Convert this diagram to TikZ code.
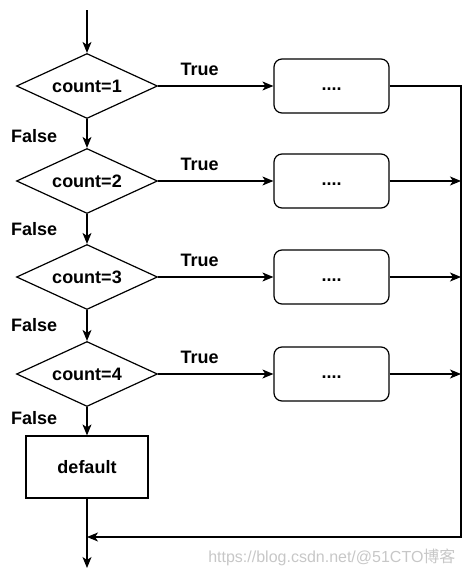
\documentclass[tikz,border=0pt]{standalone}
\usepackage{fontspec}
\setmainfont{Liberation Sans}
\newfontfamily\cjkwm{Noto Sans CJK SC}
\usetikzlibrary{arrows.meta, positioning, shapes.geometric}

\begin{document}
\begin{tikzpicture}[
		x=1pt, y=-1pt,
		every node/.style={font=\fontsize{18}{21}\selectfont\bfseries},
		arrow/.style={-{Stealth[length=11pt, width=9pt, inset=3pt]}, line width=1.2pt},
		test/.style={draw, diamond, line width=1.2pt, inner sep=0pt,
			minimum width=141pt, minimum height=65pt, aspect=2.17},
		action/.style={draw, rectangle, rounded corners=8pt, line width=1.2pt,
			text height=13pt, text depth=4pt,
			minimum width=115pt, minimum height=54pt},
		fallback/.style={draw, rectangle, line width=1.2pt,
			minimum width=122pt, minimum height=62pt},
		yes/.style={pos=0.36, above=6pt},
		no/.style={midway, left=26pt}
		]
		\useasboundingbox (0,0) rectangle (468,576);
		
		% === NODES ===
		
		% Entry and exit
		\coordinate (entry) at (87,10);
		\coordinate (exit) at (87,568);
		
		% Tests on the left
		\node [test] (test1) at (87,86) {count=1};
		\node [test] (test2) at (87,181) {count=2};
		\node [test] (test3) at (87,277) {count=3};
		\node [test] (test4) at (87,374) {count=4};
		
		% Default branch
		\node [fallback] (default) at (87,467) {default};
		
		% Actions on the right
		\node [action] (act1) at (331.5,86) {....};
		\node [action] (act2) at (331.5,181) {....};
		\node [action] (act3) at (331.5,277) {....};
		\node [action] (act4) at (331.5,374) {....};
		
		% Collecting line on the right
		\coordinate (bus1) at (461,86);
		\coordinate (bus2) at (461,181);
		\coordinate (bus3) at (461,277);
		\coordinate (bus4) at (461,374);
		\coordinate (merge) at (87,537);
		
		% === FALSE CHAIN ===
		
		\draw[arrow] (entry) -- (test1);
		\draw[arrow] (test1) -- node[no, yshift=-3pt] {False} (test2);
		\draw[arrow] (test2) -- node[no] {False} (test3);
		\draw[arrow] (test3) -- node[no] {False} (test4);
		\draw[arrow] (test4) -- node[no, yshift=3pt] {False} (default);
		\draw[arrow] (default) -- (exit);
		
		% === TRUE BRANCHES ===
		
		\draw[arrow] (test1) -- node[yes] {True} (act1);
		\draw[arrow] (test2) -- node[yes] {True} (act2);
		\draw[arrow] (test3) -- node[yes] {True} (act3);
		\draw[arrow] (test4) -- node[yes] {True} (act4);
		
		% Back to the exit
		\draw[arrow] (act1) -- (bus1) |- (merge);
		\draw[arrow] (act2) -- (bus2);
		\draw[arrow] (act3) -- (bus3);
		\draw[arrow] (act4) -- (bus4);
		
		% === WATERMARK ===
		\node[font=\fontsize{16}{19}\selectfont, text=black!22, anchor=east]
		(mark) at (459,557) {https://blog.csdn.net/@51CTO{\cjkwm 博客}};
		
	\end{tikzpicture}
\end{document}
